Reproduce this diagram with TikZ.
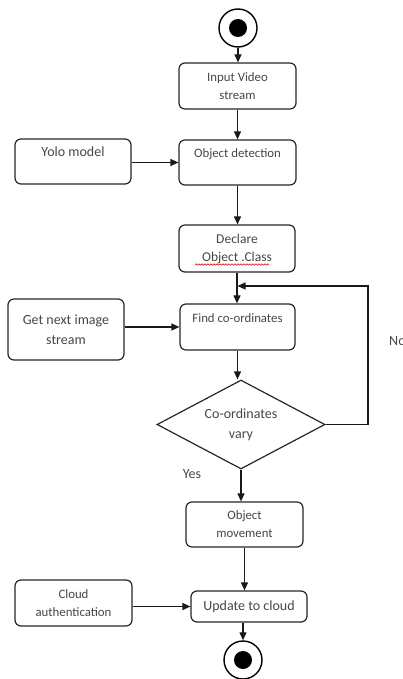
\documentclass[tikz,border=0pt]{standalone}
\usepackage{fontspec}
\setmainfont{Carlito}
\usetikzlibrary{arrows.meta,shapes.geometric,decorations.pathmorphing,calc}
\begin{document}
\begin{tikzpicture}[x=1pt,y=-1pt,
  box/.style={draw=black!85, line width=1.2pt, rounded corners=6pt, fill=white,
              align=center, text=black!72, inner sep=0pt},
  small/.style={font=\fontsize{12.8}{18}\selectfont},
  large/.style={font=\fontsize{14}{20}\selectfont},
  mid/.style={font=\fontsize{13.5}{18}\selectfont},
  flow/.style={draw=black!90, line width=1.2pt, -{Triangle[length=8pt,width=7pt]}},
  terminal/.style={circle, draw=black, line width=1.4pt, fill=white, minimum size=38pt, inner sep=0pt},
  dot/.style={circle, fill=black, minimum size=18pt, inner sep=0pt},
  decision/.style={diamond, draw=black!85, line width=1.2pt, fill=white, align=center,
                   text=black!72, shape aspect=1.89, inner sep=0pt,
                   minimum width=168pt, minimum height=89pt},
  note/.style={text=black!72, inner sep=0pt},
]
\useasboundingbox (0,0) rectangle (403,679);

% start and end terminals
\node[terminal] (start) at (238,28) {};
\node[dot] (startdot) at (start.center) {};
\node[terminal] (stop) at (243,660) {};
\node[dot] (stopdot) at (stop.center) {};

% activity boxes
\node[box, small, minimum width=117pt, minimum height=46pt] (input) at (237.5,86) {Input Video\\stream};
\node[box, small, minimum width=117pt, minimum height=45pt] (detect) at (237.5,162.5) {Object detection\\\mbox{}};
\node[box, large, minimum width=116pt, minimum height=45pt] (yolo) at (73,161.5) {Yolo model\\\mbox{}};
\node[box, mid, minimum width=116pt, minimum height=47pt] (declare) at (237,248.5) {Declare\\Object .Class};
\node[box, small, minimum width=115pt, minimum height=46pt] (find) at (237.5,327) {Find co-ordinates\\\mbox{}};
\node[box, large, minimum width=116pt, minimum height=61pt] (getnext) at (66,329.5) {Get next image\\stream};
\node[decision, large] (vary) at (241,424.5) {Co-ordinates\\vary};
\node[box, small, minimum width=117pt, minimum height=45pt] (move) at (244.5,524.5) {Object\\movement};
\node[box, large, minimum width=116pt, minimum height=31pt] (update) at (249,606.5) {Update to cloud};
\node[box, small, minimum width=117pt, minimum height=46pt] (cloud) at (73.5,603) {Cloud\\authentication};

% branch labels
\node[note, large] (yes) at (192,474) {Yes};
\node[note, large, anchor=west] (no) at (389,341) {No};

% spell-check underline
\draw[red!85!black, line width=0.6pt, decorate,
      decoration={snake, amplitude=0.7pt, segment length=3pt}]
  ($(declare.center)+(-42,16)$) -- ($(declare.center)+(32,16)$);

% main flow
\draw[flow] (start.south) -- (start.south |- input.north);
\draw[flow] (input.south) -- (input.south |- detect.north);
\draw[flow] (yolo.east |- detect.west) -- (detect.west);
\draw[flow] (detect.south) -- (detect.south |- declare.north);
\draw[flow] (declare.south) -- (declare.south |- find.north);
\draw[flow] (getnext.east |- find.west) -- (find.west);
\draw[flow] (find.south) -- (find.south |- vary.north);
\draw[flow] (vary.south) -- (vary.south |- move.north);
\draw[flow] (move.south) -- (move.south |- update.north);
\draw[flow] (cloud.east |- update.west) -- (update.west);
\draw[flow] (update.south -| stop.north) -- (stop.north);

% "No" loop back above the search box
\coordinate (loopturn) at (368,286);
\draw[flow] (vary.east) -| (loopturn) -- (loopturn -| find.north);
\end{tikzpicture}
\end{document}
